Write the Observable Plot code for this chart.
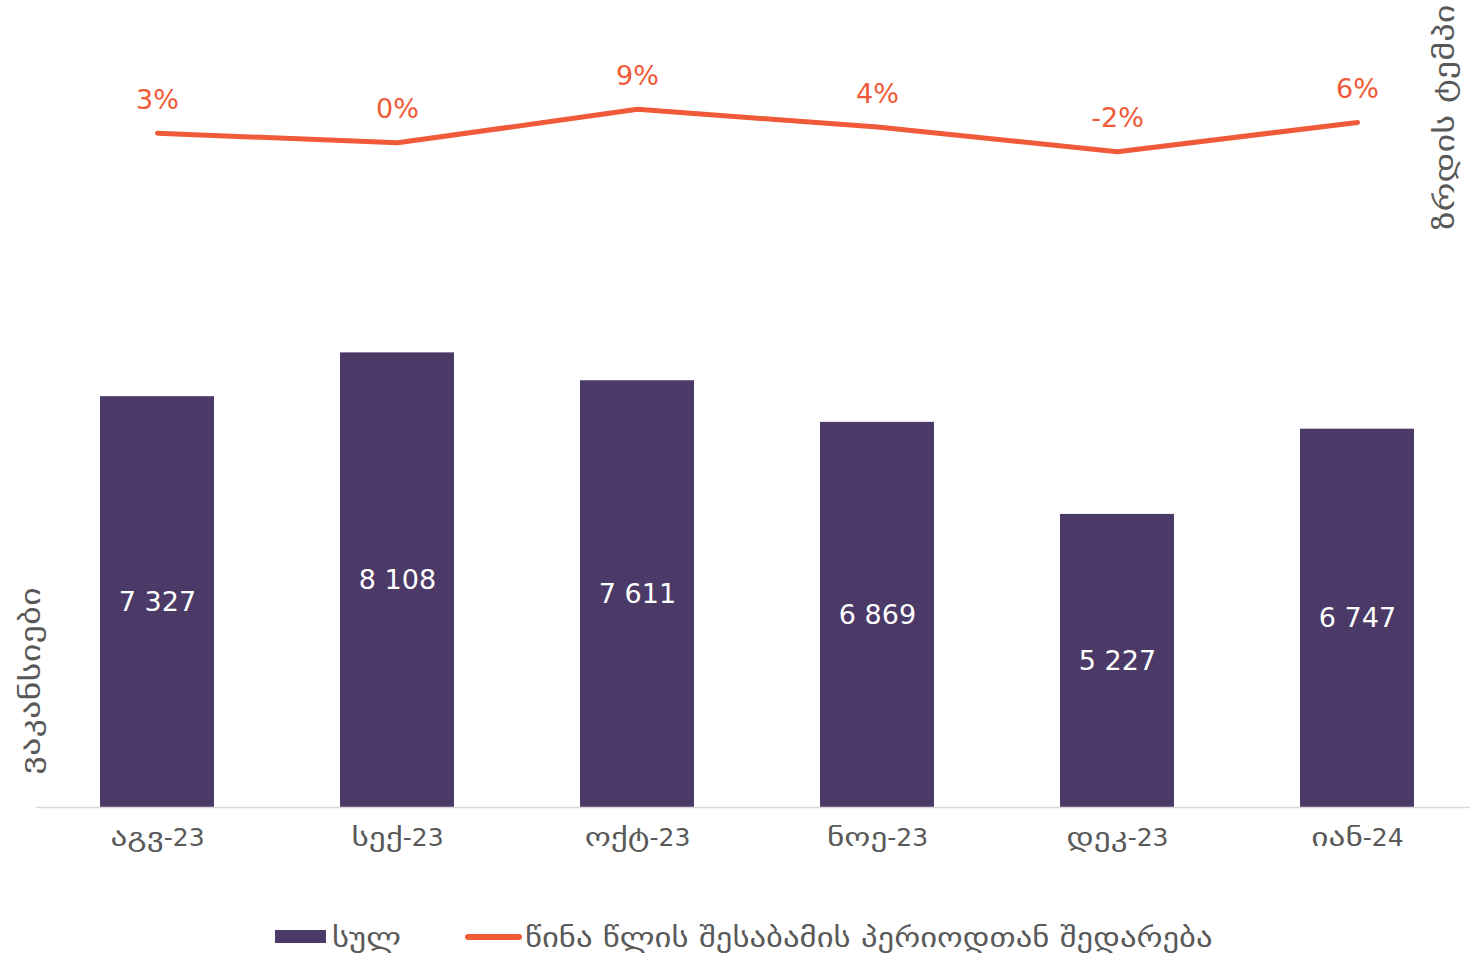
<!DOCTYPE html>
<html>
<head>
<meta charset="utf-8">
<script src="https://cdn.jsdelivr.net/npm/d3@7"></script>
<script src="https://cdn.jsdelivr.net/npm/@observablehq/plot@0.6"></script>
<style>
  html, body { margin: 0; padding: 0; background: #fff; }
  body { width: 1470px; height: 953px; overflow: hidden; font-family: "DejaVu Sans", sans-serif; }
  #wrap { position: relative; width: 1470px; height: 953px; }
  #wrap svg { position: absolute; left: 0; top: 0; overflow: visible; }
</style>
</head>
<body>
<div id="wrap"></div>
<script>
const months = ["აგვ-23", "სექ-23", "ოქტ-23", "ნოე-23", "დეკ-23", "იან-24"];
const totals = [7327, 8108, 7611, 6869, 5227, 6747];
const growth = [0.028, 0.003, 0.09, 0.044, -0.02, 0.056];
const seriesNames = ["სულ", "წინა წლის შესაბამის პერიოდთან შედარება"];
const leftTitle = "ვაკანსიები";
const rightTitle = "ზრდის ტემპი";

const barColor = "#4B3A67";
const lineColor = "#F05A38";
const textGray = "#595959";
const fontFamily = "DejaVu Sans";

const bars = months.map((m, i) => ({month: m, value: totals[i]}));
const rates = months.map((m, i) => ({month: m, rate: growth[i]}));

const fmtInt = v => d3.format(",")(v).replace(/,/g, " ");
const fmtPct = v => Math.round(v * 100) + "%";

const W = 1470, H = 870;
const xRange = [36, 1478];

const barPlot = Plot.plot({
  width: W,
  height: H,
  marginTop: 22,
  marginBottom: 63,
  marginLeft: 36,
  marginRight: 0,
  style: {fontFamily, fontSize: "25px", background: "transparent", overflow: "visible"},
  x: {domain: months, range: xRange, paddingInner: 0.526, paddingOuter: 0.263, label: null},
  y: {domain: [0, 14000], axis: null},
  marks: [
    Plot.barY(bars, {x: "month", y: "value", fill: barColor}),
    Plot.ruleY([0], {stroke: "#D9D9D9", strokeWidth: 1.5}),
    Plot.text(bars, {x: "month", y: d => d.value / 2, text: d => fmtInt(d.value), fill: "#FFFFFF", fontSize: 27}),
    Plot.axisX({tickSize: 0, tickPadding: 21, fontSize: 25, color: textGray, label: null})
  ]
});

const linePlot = Plot.plot({
  width: W,
  height: H,
  marginTop: 105,
  marginBottom: H - 182,
  marginLeft: 36,
  marginRight: 0,
  style: {fontFamily, fontSize: "27px", background: "transparent", overflow: "visible"},
  x: {type: "point", domain: months, range: xRange, padding: 0.5, axis: null},
  y: {domain: [-0.1, 0.1], axis: null},
  marks: [
    Plot.lineY(rates, {x: "month", y: "rate", stroke: lineColor, strokeWidth: 5, strokeLinecap: "round", strokeLinejoin: "round"}),
    Plot.text(rates, {x: "month", y: "rate", text: d => fmtPct(d.rate), fill: lineColor, fontSize: 27, dy: -33})
  ]
});

// legend + axis titles
const deco = d3.create("svg")
  .attr("width", 1470).attr("height", 953)
  .style("font-family", fontFamily)
  .style("fill", textGray);

deco.append("text")
  .attr("transform", "translate(30,681) rotate(-90)")
  .attr("text-anchor", "middle").attr("dominant-baseline", "central")
  .attr("font-size", 27).attr("class", "geo").attr("data-k", 1.35)
  .text(leftTitle);
deco.append("text")
  .attr("transform", "translate(1444,117) rotate(-90)")
  .attr("text-anchor", "middle").attr("dominant-baseline", "central")
  .attr("font-size", 27).attr("class", "geo").attr("data-k", 1.35)
  .text(rightTitle);

const lg = deco.append("g");
lg.append("rect").attr("x", 275).attr("y", 930).attr("width", 51).attr("height", 13).attr("fill", barColor);
lg.append("text").attr("x", 332).attr("y", 937).attr("dominant-baseline", "central")
  .attr("font-size", 27).attr("class", "geo").attr("data-k", 1.21).text(seriesNames[0]);
lg.append("line").attr("x1", 468).attr("x2", 519).attr("y1", 937).attr("y2", 937)
  .attr("stroke", lineColor).attr("stroke-width", 6).attr("stroke-linecap", "round");
lg.append("text").attr("x", 525).attr("y", 937).attr("dominant-baseline", "central")
  .attr("font-size", 27).attr("class", "geo").attr("data-k", 1.21).text(seriesNames[1]);

const wrap = document.getElementById("wrap");
wrap.appendChild(barPlot);
wrap.appendChild(linePlot);
wrap.appendChild(deco.node());

// widen Georgian runs to match the reference's wider Georgian glyphs
const NS = "http://www.w3.org/2000/svg";
function stretchGeorgian(el, k) {
  const s = el.textContent;
  const parts = s.match(/[\u10A0-\u10FF ]+|[^\u10A0-\u10FF ]+/g) || [];
  el.textContent = "";
  for (const p of parts) {
    const t = document.createElementNS(NS, "tspan");
    t.textContent = p;
    el.appendChild(t);
    if (/[\u10A0-\u10FF]/.test(p)) {
      const w = t.getComputedTextLength();
      t.setAttribute("textLength", (w * k).toFixed(1));
      t.setAttribute("lengthAdjust", "spacingAndGlyphs");
    }
  }
}
barPlot.querySelectorAll('g[aria-label="x-axis tick label"] text').forEach(el => stretchGeorgian(el, 1.33));
deco.node().querySelectorAll("text.geo").forEach(el => stretchGeorgian(el, +el.getAttribute("data-k")));
</script>
</body>
</html>
